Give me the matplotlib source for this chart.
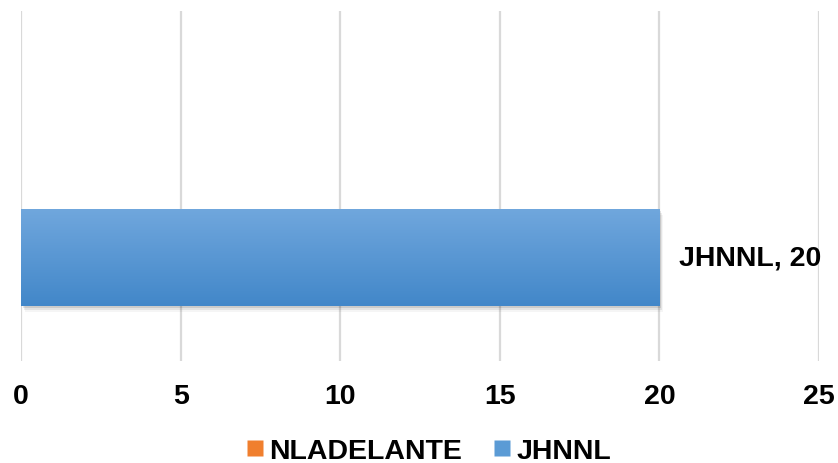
import matplotlib
matplotlib.use("Agg")
import matplotlib.pyplot as plt
import numpy as np
from matplotlib.lines import Line2D
from matplotlib.patches import Rectangle
from matplotlib.colors import LinearSegmentedColormap

series = ["NLADELANTE", "JHNNL"]
values = [0, 20]
colors_top = ["#f4a064", "#70a7dd"]
colors_bot = ["#e26b1c", "#4287c9"]
xticks = [0, 5, 10, 15, 20, 25]

plt.rcParams['font.family'] = ['Liberation Sans', 'DejaVu Sans']
W, H = 838, 464
fig = plt.figure(figsize=(W/100, H/100), dpi=100)
ax = fig.add_axes([21/W, (H-362)/H, (819-21)/W, 350/H])
ax.set_xlim(0, 25)
ax.set_ylim(0, 1)

bar_h = 97/350
centers = [(362-258.5)/350 + bar_h, (362-258.5)/350]

for s, v, ct, cb, yc in zip(series, values, colors_top, colors_bot, centers):
    if v <= 0:
        continue
    y0, y1 = yc - bar_h/2, yc + bar_h/2
    # shadow
    for i, a in enumerate([0.10, 0.07, 0.04]):
        ax.add_patch(Rectangle((0.05 + 0.03*i, y0 - 0.006*(i+1)), v, bar_h,
                               facecolor='black', alpha=a, edgecolor='none', zorder=2))
    cmap = LinearSegmentedColormap.from_list('g', [cb, ct])
    grad = np.linspace(0, 1, 256).reshape(-1, 1)
    ax.imshow(grad, extent=[0, v, y0, y1], origin='lower', aspect='auto', cmap=cmap, zorder=3)
    ax.annotate(f"{s}, {v}", xy=(v, yc), xytext=(14, 0), textcoords='offset points',
                ha='left', va='center', fontsize=20.5, fontweight='bold', zorder=5)

ax.set_xticks(xticks)
ax.set_xticklabels([str(t) for t in xticks], fontsize=20.5, fontweight='bold')
ax.set_yticks([])
ax.tick_params(axis='x', length=0, pad=16)
ax.grid(axis='x', color='#d9d9d9', linewidth=1.6, zorder=0)
ax.set_axisbelow(True)
for sp in ax.spines.values():
    sp.set_visible(False)
ax.set_ylim(0, 1)
ax.set_xlim(0, 25)

handles = [Line2D([], [], marker='s', linestyle='none', markersize=11,
                  markerfacecolor=c, markeredgecolor='none') for c in ["#f07f2e", "#5b9bd5"]]
fig.legend(handles, series, loc='center', bbox_to_anchor=(0.5125, 0.026), ncol=2,
           frameon=False, prop={'size': 20.5, 'weight': 'bold'},
           handlelength=0.52, handletextpad=0.25, columnspacing=1.15, borderpad=0)

fig.savefig("out.png", dpi=100)
